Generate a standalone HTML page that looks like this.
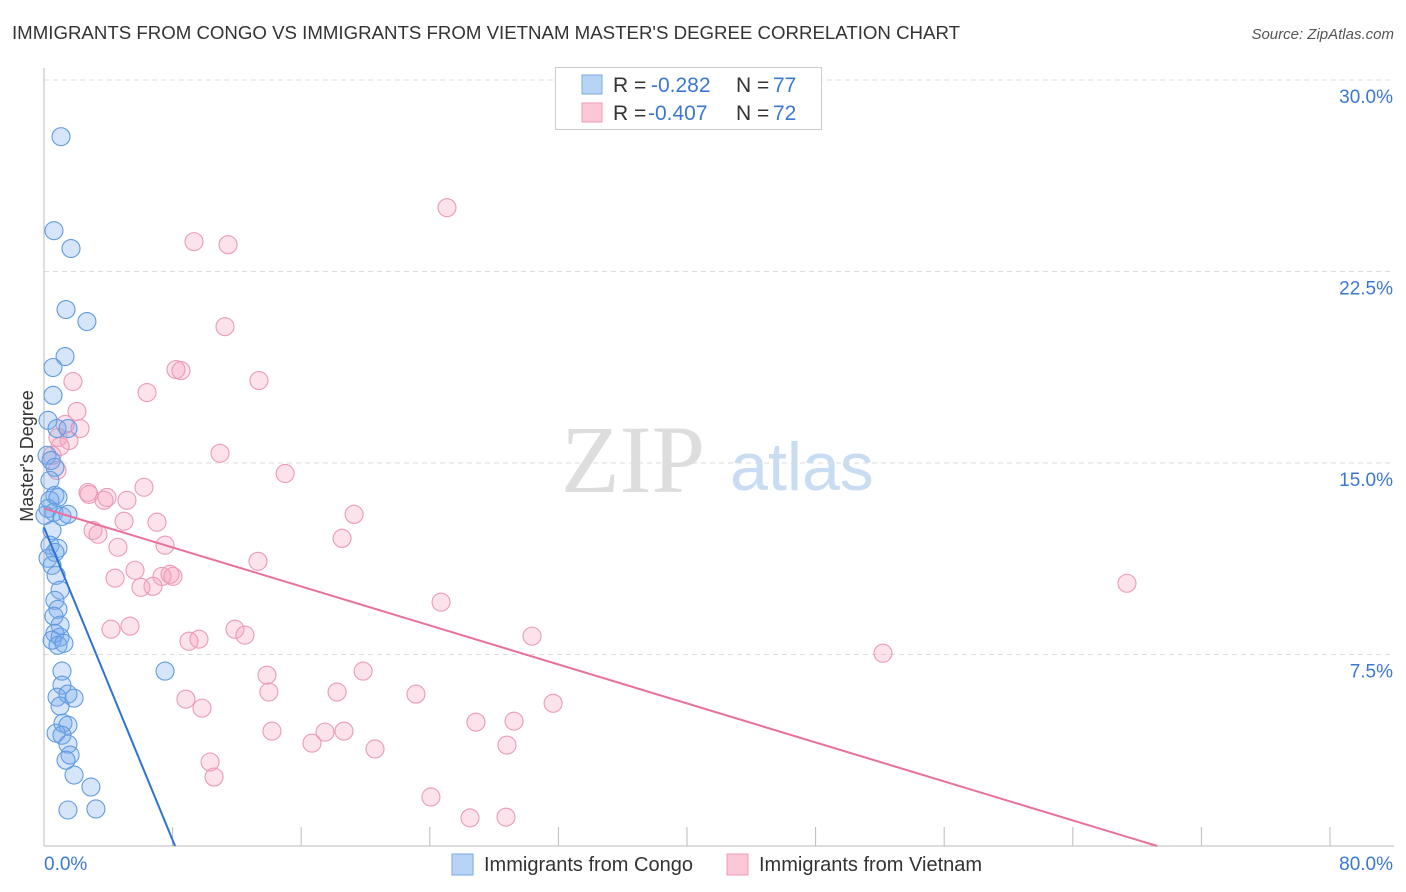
<!DOCTYPE html>
<html><head><meta charset="utf-8">
<style>
body{margin:0;background:#fff;font-family:"Liberation Sans",sans-serif;}
#wrap{position:relative;width:1406px;height:892px;overflow:hidden;}
svg text{font-family:"Liberation Sans",sans-serif;}
</style></head>
<body>
<div id="wrap">
<svg id="chart" width="1406" height="892">
<text x="12" y="39" font-size="18" fill="#333" textLength="948" lengthAdjust="spacingAndGlyphs">IMMIGRANTS FROM CONGO VS IMMIGRANTS FROM VIETNAM MASTER'S DEGREE CORRELATION CHART</text>
<text x="1394" y="39" font-size="15" fill="#555" text-anchor="end" font-style="italic">Source: ZipAtlas.com</text>
<text transform="translate(33,456) rotate(-90)" font-size="18" fill="#333" text-anchor="middle">Master's Degree</text>
<g>
<text x="633" y="492" font-size="96" fill="#ddd" text-anchor="middle" font-family="Liberation Serif" style="font-family:'Liberation Serif',serif">ZIP</text>
<text x="802" y="490" font-size="68" fill="#c8dcf2" text-anchor="middle">atlas</text>
</g>
<g id="grid"></g>
<g id="axes"></g>
<g id="pinkPts"></g>
<g id="bluePts"></g>
<g id="trends"></g>
<g>
<rect x="555.5" y="67.5" width="266" height="62" fill="#fff" stroke="#ccc"/>
<rect x="582" y="75" width="20" height="19" fill="#b8d4f5" stroke="#7aaae6"/>
<rect x="582" y="103" width="20" height="19" fill="#fcc8d8" stroke="#f09ab6"/>
<text x="613" y="92" font-size="21" fill="#333">R = </text><text x="651" y="92" font-size="21" fill="#3a78d4">-0.282</text>
<text x="736" y="92" font-size="21" fill="#333">N = </text><text x="773" y="92" font-size="21" fill="#3a78d4">77</text>
<text x="613" y="120" font-size="21" fill="#333">R = </text><text x="648" y="120" font-size="21" fill="#3a78d4">-0.407</text>
<text x="736" y="120" font-size="21" fill="#333">N = </text><text x="773" y="120" font-size="21" fill="#3a78d4">72</text>
</g>
<g>
<rect x="452" y="854" width="21" height="21" fill="#b8d4f5" stroke="#7aaae6"/>
<text x="484" y="871" font-size="20" fill="#333">Immigrants from Congo</text>
<rect x="727" y="854" width="21" height="21" fill="#fcc8d8" stroke="#f09ab6"/>
<text x="759" y="871" font-size="20" fill="#333">Immigrants from Vietnam</text>
</g>
</svg>
</div>
<script>
const yTicks=[7.5,15,22.5,30];
const yTickLabels=["7.5%","15.0%","22.5%","30.0%"];
const xTicks=[0,8,16,24,32,40,48,56,64,72,80];
const xEndLabels=["0.0%","80.0%"];
const congoX=[1.06,0.62,1.68,1.37,2.67,1.31,0.56,0.56,0.25,0.81,1.49,0.19,0.44,0.68,0.37,0.68,0.37,0.87,0.25,0.62,1.12,1.49,0.06,0.50,0.37,0.87,0.68,0.25,0.50,0.75,1.0,0.68,0.87,0.62,1.0,0.68,1.0,0.5,0.87,1.24,7.53,1.12,1.12,0.81,1.49,1.87,1.0,1.18,1.49,0.75,1.12,1.49,1.62,1.37,1.87,2.92,1.49,3.23];
const congoY=[27.78,24.10,23.40,21.01,20.54,19.17,18.74,17.65,16.67,16.35,16.35,15.3,15.1,14.83,14.32,13.73,13.54,13.65,13.22,13.07,12.91,12.99,12.95,12.36,11.78,11.66,11.5,11.27,10.99,10.6,10.02,9.62,9.27,9.0,8.65,8.33,8.18,8.06,7.86,7.94,6.85,6.85,6.3,5.83,5.95,5.79,5.48,4.81,4.73,4.42,4.34,3.99,3.56,3.36,2.78,2.31,1.41,1.45];
const vietX=[25.07,9.33,11.45,11.26,8.21,8.52,13.37,6.41,1.8,2.05,1.31,2.24,0.87,1.56,1.0,0.5,0.81,10.95,15.0,2.74,2.8,3.73,3.92,5.16,6.22,4.98,7.03,3.05,3.36,4.6,7.53,13.31,18.54,19.29,5.66,4.42,7.34,7.84,8.02,6.03,6.78,24.7,67.37,4.17,5.35,9.02,9.64,11.88,12.5,30.36,52.19,13.87,19.85,13.99,18.23,23.14,8.83,9.83,31.67,26.87,29.24,14.18,17.48,18.66,16.67,20.59,28.8,10.33,10.58,24.07,26.5,28.74];
const vietY=[25.0,23.67,23.55,20.34,18.66,18.62,18.23,17.76,18.19,17.02,16.51,16.35,16.0,15.88,15.65,15.3,14.71,15.38,14.59,13.85,13.77,13.54,13.65,13.54,14.05,12.72,12.68,12.36,12.21,11.7,11.78,11.15,12.05,12.99,10.8,10.49,10.56,10.64,10.56,10.13,10.17,9.55,10.29,8.49,8.61,8.02,8.1,8.49,8.26,8.22,7.55,6.69,6.85,6.03,6.03,5.95,5.75,5.4,5.59,4.85,4.89,4.5,4.46,4.5,4.03,3.8,3.95,3.29,2.7,1.92,1.1,1.13];
const congoTrend=[12.48,-1.531];
const vietTrend=[13.22,-0.1909];

const NS="http://www.w3.org/2000/svg";
const X0=44,X1=1330,Y0=846,Y30=80;
const sx=v=>X0+v/80*(X1-X0);
const sy=v=>Y0-v/30*(Y0-Y30);
function mk(tag,attrs,parent){const e=document.createElementNS(NS,tag);for(const k in attrs)e.setAttribute(k,attrs[k]);parent.appendChild(e);return e;}
const grid=document.getElementById('grid'),axes=document.getElementById('axes');
yTicks.forEach((t,i)=>{
  const l=mk('line',{x1:X0,x2:1394,y1:sy(t),y2:sy(t),stroke:'#ddd','stroke-dasharray':'5,4'},grid);
  
  
  const tx=mk('text',{x:1393,y:sy(t)+23,'font-size':19,fill:'#3a78d4','text-anchor':'end'},axes);
  tx.textContent=yTickLabels[i];
  
  
});
const ax=mk('line',{x1:X0,x2:X0,y1:68,y2:Y0,stroke:'#bbb'},axes);


const bx=mk('line',{x1:X0,x2:1394,y1:Y0,y2:Y0,stroke:'#bbb'},axes);


xTicks.forEach(t=>{
  const l=mk('line',{x1:sx(t),x2:sx(t),y1:827,y2:Y0,stroke:'#bbb'},axes);
  
  
});
const xl0=mk('text',{x:44,y:870,'font-size':19,fill:'#3a78d4'},axes);xl0.textContent=xEndLabels[0];


const xl1=mk('text',{x:1393,y:870,'font-size':19,fill:'#3a78d4','text-anchor':'end'},axes);xl1.textContent=xEndLabels[1];


const pg=document.getElementById('pinkPts'),bg=document.getElementById('bluePts');
vietX.forEach((x,i)=>{
  const c=mk('circle',{cx:sx(x),cy:sy(vietY[i]),r:9,fill:'rgba(244,160,188,0.3)',stroke:'#ec9ab5','stroke-width':1.1},pg);
  
  
});
congoX.forEach((x,i)=>{
  const c=mk('circle',{cx:sx(x),cy:sy(congoY[i]),r:9,fill:'rgba(120,170,235,0.3)',stroke:'#5f9be0','stroke-width':1.1},bg);
  
  
});
const tg=document.getElementById('trends');
const cEnd=-congoTrend[0]/congoTrend[1];
const cl=mk('line',{x1:sx(0),y1:sy(congoTrend[0]),x2:sx(cEnd),y2:sy(0),stroke:'#2f72d6','stroke-width':2},tg);


const vEnd=-vietTrend[0]/vietTrend[1];
const vl=mk('line',{x1:sx(0),y1:sy(vietTrend[0]),x2:sx(vEnd),y2:sy(0),stroke:'#e8709a','stroke-width':2},tg);


</script>
</body></html>
